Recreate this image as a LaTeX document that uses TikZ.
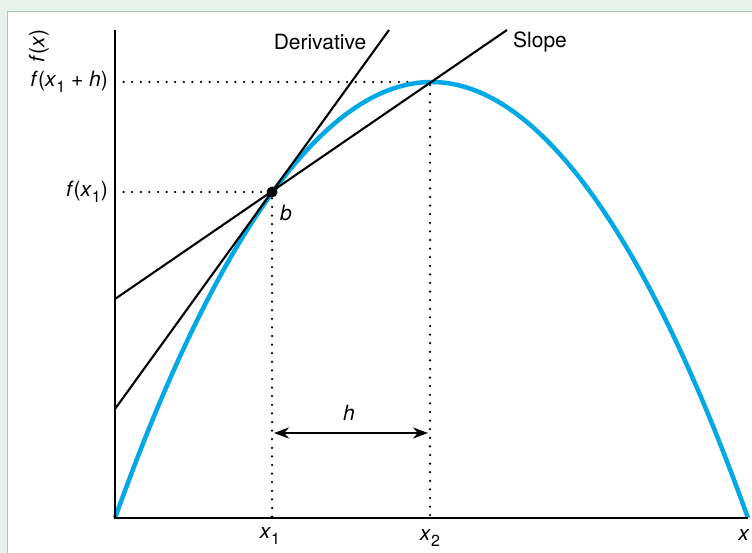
\documentclass[tikz,border=0pt]{standalone}
\usepackage{fontspec}
\setmainfont{TeX Gyre Heros}
\usepackage{xcolor}
\usetikzlibrary{arrows.meta, positioning, calc}

\definecolor{panelgreen}{HTML}{E7F2EC}
\definecolor{framegreen}{HTML}{A3CDB2}
\definecolor{curveblue}{HTML}{00A9E6}

\newcommand{\vi}[1]{\textit{#1}}
\newcommand{\sub}[1]{\raisebox{-0.5ex}{\fontsize{16}{16}\selectfont #1}}

\tikzset{
  axis/.style={line width=2.5pt},
  guide/.style={line width=2.5pt, line cap=round, dash pattern=on 0pt off 8.6pt},
  secant/.style={line width=2.1pt},
  lbl/.style={font=\fontsize{21}{25}\selectfont, inner sep=1pt}
}

\begin{document}
\begin{tikzpicture}[x=1pt, y=-1pt]
    % Background and panel
    \useasboundingbox (0,0) rectangle (752,553);
    \fill[panelgreen] (0,0) rectangle (752,553);
    \begin{scope}
      \clip (0,0) rectangle (752,553);
      \draw[framegreen, fill=white, line width=1.2pt] (7.5,11.5) rectangle (770,570);
    \end{scope}
    % Key points
    \coordinate (O) at (115,518);
    \coordinate (ytop) at (115,30);
    \coordinate (xend) at (748,518);
    \coordinate (b) at (272,192);
    \coordinate (peak) at (431.5,82);
    \coordinate (x1) at (272,518);
    \coordinate (x2) at (430,518);
    \coordinate (fx1) at (115,192);
    \coordinate (fx2) at (115,82);
    % Guide lines
    \draw[guide] (fx2) -- (430,82) -- (x2);
    \draw[guide] (fx1) -- (b) -- (x1);
    % Curve
    \draw[curveblue, line width=4.5pt] (O) parabola bend (peak) (xend);
    % Axes
    \draw[axis] (ytop) -- (O) -- (xend);
    % Derivative line
    \draw[secant] (115,409) -- (389,30);
    % Slope line
    \draw[secant] (115,299) -- (507,30);
    \fill (b) circle (5.5pt);
    % h arrow
    \draw[line width=2.6pt, {Stealth[length=15pt,width=11pt]}-{Stealth[length=15pt,width=11pt]}] (274,433) -- (428,433);
    % Labels
    \node[lbl] (hlab) at (349,413) {\vi{h}};
    \node[lbl] (blab) at (286,213) {\vi{b}};
    \node[lbl] (derlab) at (320,42) {Derivative};
    \node[lbl] (slolab) at (540,42) {Slope};
    \node[lbl, rotate=90] (fxlab) at (39,46) {\vi{f}(\vi{x})};
    \node[lbl, anchor=east] (fx2lab) at (109,82) {\vi{f}(\vi{x}\sub{1} + \vi{h})};
    \node[lbl, anchor=east] (fx1lab) at (109,192) {\vi{f}(\vi{x}\sub{1})};
    \node[lbl] (x1lab) at (270,536) {\vi{x}\sub{1}};
    \node[lbl] (x2lab) at (430,538) {\vi{x}\sub{2}};
    \node[lbl] (xlab) at (744,535) {\vi{x}};
\end{tikzpicture}
\end{document}
